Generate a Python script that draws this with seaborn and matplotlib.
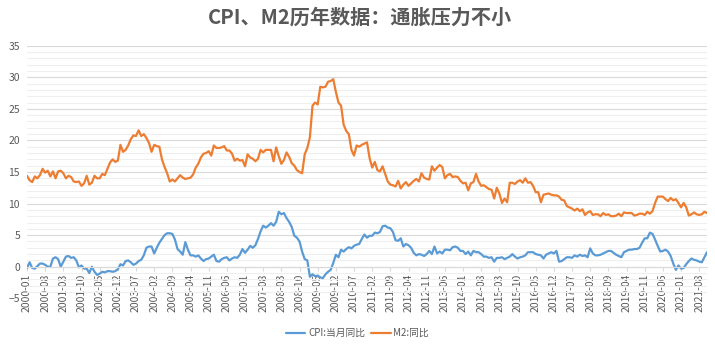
import numpy as np
import pandas as pd
import matplotlib
matplotlib.use("Agg")
import matplotlib.pyplot as plt
import seaborn as sns
from matplotlib.ticker import MultipleLocator
from matplotlib.lines import Line2D

# ---------------- data ----------------
title = "CPI、M2历年数据：通胀压力不小"
series_names = ["CPI:当月同比", "M2:同比"]
start_month = "2000-01"
n_months = 263

cpi = [
    -0.2, 0.7, -0.2, -0.3, 0.1, 0.5, 0.5, 0.3, 0.0, 0.0, 1.3, 1.5,
    1.2, 0.0, 0.8, 1.6, 1.7, 1.4, 1.5, 1.0, -0.1, 0.2, -0.3, -0.3,
    -1.0, 0.0, -0.8, -1.3, -1.1, -0.8, -0.9, -0.7, -0.7, -0.8, -0.7, -0.4,
    0.4, 0.2, 0.9, 1.0, 0.7, 0.3, 0.5, 0.9, 1.1, 1.8, 3.0, 3.2,
    3.2, 2.1, 3.0, 3.8, 4.4, 5.0, 5.3, 5.3, 5.2, 4.3, 2.8, 2.4,
    1.9, 3.9, 2.7, 1.8, 1.8, 1.6, 1.8, 1.3, 0.9, 1.2, 1.3, 1.6,
    1.9, 0.9, 0.8, 1.2, 1.4, 1.5, 1.0, 1.3, 1.5, 1.4, 1.9, 2.8,
    2.2, 2.7, 3.3, 3.0, 3.4, 4.4, 5.6, 6.5, 6.2, 6.5, 6.9, 6.5,
    7.1, 8.7, 8.3, 8.5, 7.7, 7.1, 6.3, 4.9, 4.6, 4.0, 2.4, 1.2,
    1.0, -1.6, -1.2, -1.5, -1.4, -1.7, -1.8, -1.2, -0.8, -0.5, 0.6, 1.9,
    1.5, 2.7, 2.4, 2.8, 3.1, 2.9, 3.3, 3.5, 3.6, 4.4, 5.1, 4.6,
    4.9, 4.9, 5.4, 5.3, 5.5, 6.4, 6.5, 6.2, 6.1, 5.5, 4.2, 4.1,
    4.5, 3.2, 3.6, 3.4, 3.0, 2.2, 1.8, 2.0, 1.9, 1.7, 2.0, 2.5,
    2.0, 3.2, 2.1, 2.4, 2.1, 2.7, 2.7, 2.6, 3.1, 3.2, 3.0, 2.5,
    2.5, 2.0, 2.4, 1.8, 2.5, 2.3, 2.3, 2.0, 1.6, 1.6, 1.4, 1.5,
    0.8, 1.4, 1.4, 1.5, 1.2, 1.4, 1.6, 2.0, 1.6, 1.3, 1.5, 1.6,
    1.8, 2.3, 2.3, 2.3, 2.0, 1.9, 1.8, 1.3, 1.9, 2.1, 2.3, 2.1,
    2.5, 0.8, 0.9, 1.2, 1.5, 1.5, 1.4, 1.8, 1.6, 1.9, 1.7, 1.8,
    1.5, 2.9, 2.1, 1.8, 1.8, 1.9, 2.1, 2.3, 2.5, 2.5, 2.2, 1.9,
    1.7, 1.5, 2.3, 2.5, 2.7, 2.7, 2.8, 2.8, 3.0, 3.8, 4.5, 4.5,
    5.4, 5.2, 4.3, 3.3, 2.4, 2.5, 2.7, 2.4, 1.7, 0.5, -0.5, 0.2,
    -0.3, -0.2, 0.4, 0.9, 1.3, 1.1, 1.0, 0.8, 0.7, 1.5, 2.3,
]

m2 = [
    14.4, 13.7, 13.4, 14.3, 14.0, 14.5, 15.5, 14.9, 15.2, 14.3, 15.1, 14.0,
    15.1, 15.2, 14.8, 14.0, 14.4, 14.2, 13.5, 13.4, 13.5, 12.8, 13.2, 14.4,
    13.0, 13.3, 14.4, 14.0, 14.0, 14.7, 14.5, 15.5, 16.5, 17.0, 16.6, 16.8,
    19.3, 18.2, 18.5, 19.2, 20.2, 20.8, 20.7, 21.6, 20.7, 21.0, 20.4, 19.6,
    18.2, 19.3, 19.1, 19.0, 17.0, 15.8, 14.8, 13.5, 13.8, 13.5, 14.0, 14.5,
    14.1, 13.9, 14.0, 14.1, 14.6, 15.7, 16.3, 17.3, 17.9, 18.0, 18.3, 17.6,
    19.2, 18.8, 18.8, 18.9, 19.1, 18.4, 18.4, 17.9, 16.8, 17.1, 16.8, 16.9,
    15.9, 17.8, 17.3, 17.1, 16.7, 17.1, 18.5, 18.1, 18.5, 18.5, 18.5, 16.7,
    18.9, 17.5, 16.3, 16.9, 18.1, 17.4, 16.4, 16.0, 15.3, 15.0, 14.8, 17.8,
    18.8, 20.5, 25.5, 26.0, 25.7, 28.5, 28.4, 28.5, 29.3, 29.4, 29.7, 27.7,
    26.0, 25.5, 22.5, 21.5, 21.0, 18.5, 17.6, 19.2, 19.0, 19.3, 19.5, 19.7,
    17.2, 15.7, 16.6, 15.3, 15.1, 15.9, 14.7, 13.5, 13.0, 12.9, 12.7, 13.6,
    12.4, 13.0, 13.4, 12.8, 13.2, 13.6, 13.9, 13.5, 14.8, 14.1, 13.9, 13.8,
    15.9, 15.2, 15.7, 16.1, 15.8, 14.0, 14.5, 14.7, 14.2, 14.3, 14.2, 13.6,
    13.2, 13.3, 12.1, 13.2, 13.4, 14.7, 13.5, 12.8, 12.9, 12.6, 12.3, 12.2,
    10.8, 12.5, 11.6, 10.1, 10.8, 10.2, 13.3, 13.3, 13.1, 13.5, 13.7, 13.3,
    14.0, 13.3, 13.4, 12.8, 11.8, 11.8, 10.2, 11.4, 11.5, 11.6, 11.4, 11.3,
    11.3, 11.1, 10.6, 10.5, 9.6, 9.4, 9.2, 8.9, 9.2, 8.8, 9.1, 8.2,
    8.6, 8.8, 8.2, 8.3, 8.3, 8.0, 8.5, 8.2, 8.3, 8.0, 8.0, 8.1,
    8.4, 8.0, 8.6, 8.5, 8.5, 8.5, 8.1, 8.2, 8.4, 8.4, 8.2, 8.7,
    8.4, 8.8, 10.1, 11.1, 11.1, 11.1, 10.7, 10.4, 10.9, 10.5, 10.7, 10.1,
    9.4, 10.1, 9.4, 8.1, 8.3, 8.6, 8.3, 8.2, 8.3, 8.7, 8.5,
]

months = pd.period_range(start=start_month, periods=n_months, freq="M").strftime("%Y-%m").tolist()
tick_step = 7

# ---------------- styling ----------------
sns.set_theme(style="white")
plt.rcParams["font.family"] = ["Noto Sans CJK SC", "DejaVu Sans"]

blue = "#5B9BD5"
orange = "#ED7D31"
text_color = "#595959"

df = pd.DataFrame({
    "idx": list(range(n_months)) * 2,
    "value": cpi + m2,
    "series": [series_names[0]] * n_months + [series_names[1]] * n_months,
})

fig = plt.figure(figsize=(7.15, 3.46), dpi=100)
ax = fig.add_axes([27 / 715, 1 - 298.3 / 346, 680 / 715, (298.3 - 45.7) / 346])

sns.lineplot(data=df, x="idx", y="value", hue="series",
             palette=[blue, orange], linewidth=1.6, ax=ax, legend=False)

ax.set_xlim(0, n_months - 1)
ax.set_ylim(-5, 35)
ax.yaxis.set_major_locator(MultipleLocator(5))
ax.yaxis.set_minor_locator(MultipleLocator(1))
ax.grid(axis="y", which="major", color="#d9d9d9", linewidth=0.8, zorder=0)
ax.grid(axis="y", which="minor", color="#efefef", linewidth=0.8, zorder=0)
ax.grid(axis="x", visible=False)
ax.set_axisbelow(True)

for s in ["top", "right", "left"]:
    ax.spines[s].set_visible(False)
ax.spines["bottom"].set_position(("data", 0))
ax.spines["bottom"].set_color("#d9d9d9")
ax.spines["bottom"].set_linewidth(0.8)

tick_pos = list(range(0, n_months, tick_step))
ax.set_xticks(tick_pos)
ax.set_xticklabels([months[i] for i in tick_pos], rotation=90)
ax.tick_params(axis="x", which="both", length=3, width=0.8, color="#d9d9d9",
               labelsize=7.5, labelcolor=text_color, pad=2, bottom=True)
ax.tick_params(axis="y", which="both", length=0, labelsize=7.5,
               labelcolor=text_color, pad=5, left=False)
ax.set_yticks(range(-5, 36, 5))
ax.set_xlabel("")
ax.set_ylabel("")

fig.text(0.503, 0.952, title, ha="center", va="center", fontsize=14.5,
         fontweight="bold", color=text_color,
         family=["Noto Sans CJK SC", "DejaVu Sans"])

handles = [Line2D([], [], color=blue, lw=1.6), Line2D([], [], color=orange, lw=1.6)]
fig.legend(handles, series_names, loc="center", bbox_to_anchor=(0.5, 1 - 333 / 346),
           ncol=2, frameon=False, fontsize=7, handlelength=2.0, handletextpad=0.3,
           columnspacing=0.6, labelcolor=text_color)

fig.savefig("out.png", dpi=100)
